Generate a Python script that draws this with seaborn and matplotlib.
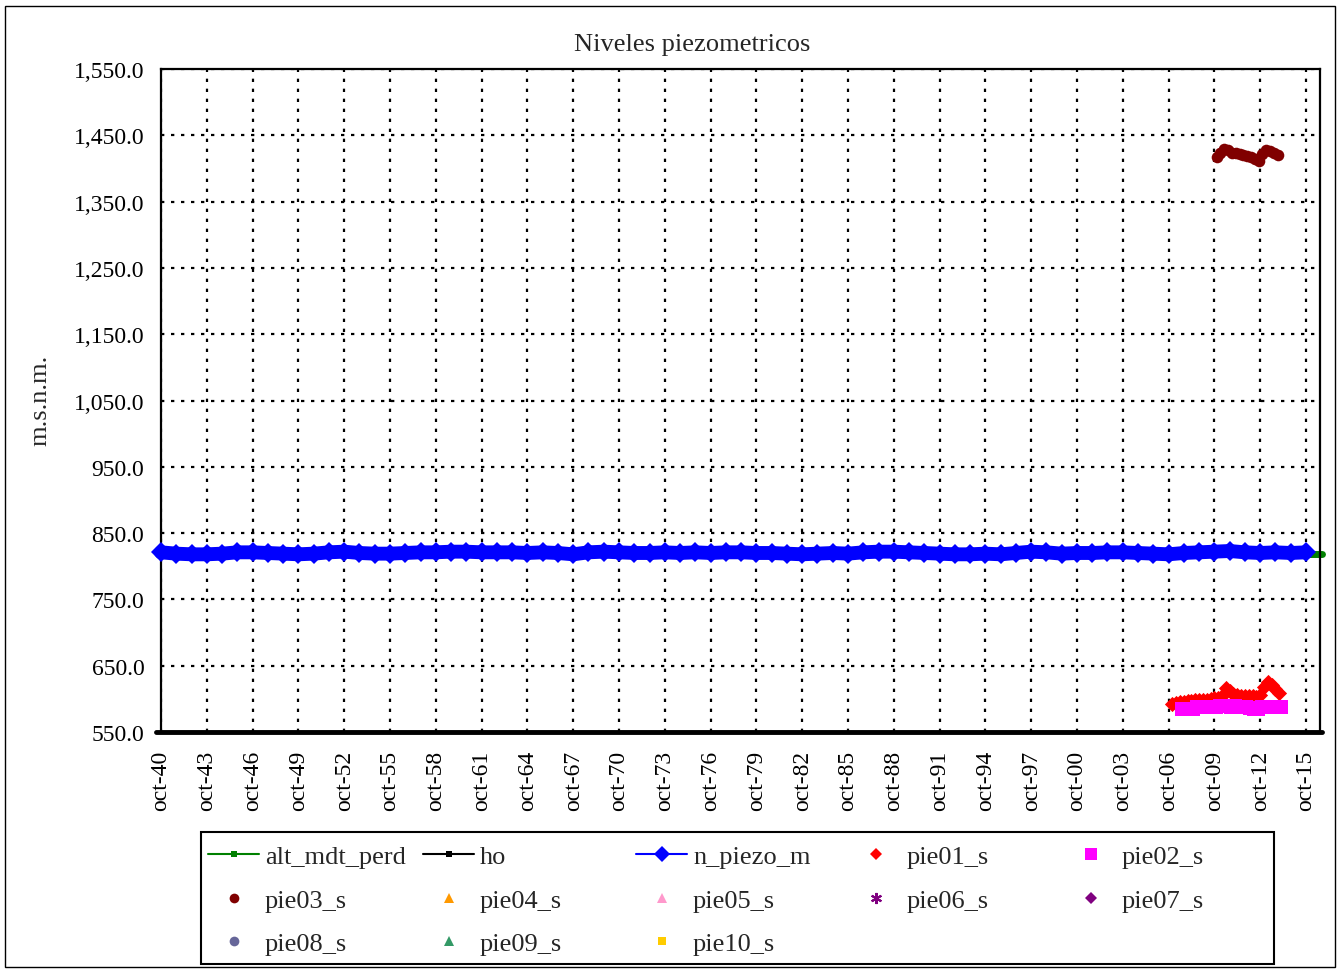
import numpy as np
import matplotlib
matplotlib.use("Agg")
import matplotlib.pyplot as plt
import seaborn as sns
from matplotlib.lines import Line2D
from matplotlib.patches import Rectangle

# --- datos (años decimales: oct = .75) ---
tick_years = list(range(1940, 2016, 3))
y_ticks = [550, 650, 750, 850, 950, 1050, 1150, 1250, 1350, 1450, 1550]

# n_piezo_m (anual, oct-40 .. oct-15)
piezo_dates = np.arange(1940.75, 2015.76, 1.0)
piezo_vals = [821, 819, 818, 818, 819, 821, 821, 820, 819, 818,
              819, 821, 822, 820, 819, 819, 820, 821, 821, 822,
              822, 821, 821, 821, 820, 821, 820, 818, 821, 822,
              821, 820, 820, 821, 820, 821, 820, 821, 821, 820,
              820, 819, 818, 819, 820, 819, 821, 822, 822, 821,
              820, 819, 818, 818, 819, 818, 820, 822, 821, 819,
              820, 820, 821, 821, 820, 819, 818, 820, 821, 822,
              823, 821, 820, 821, 820, 821]

# alt_mdt_perd y ho
alt_dates = [1940.75, 2016.8]
alt_vals = [818.5, 818.5]
ho_dates = [1940.4, 2016.8]
ho_vals = [550, 550]

# pie01_s (trimestral)
pie01_dates = np.arange(2007.0, 2014.01, 0.25)
pie01_vals = [592, 594, 596, 596, 597, 597, 598, 598, 599, 599,
              600, 601, 602, 605, 616, 612, 608, 606, 605, 605,
              604, 604, 603, 606, 618, 625, 621, 615, 609]

# pie02_s
pie02_dates = np.arange(2007.6, 2014.11, 0.25)
pie02_vals = [584, 584, 585, 585, 587, 588, 588, 588, 588, 588,
              589, 589, 589, 588, 589, 588, 587, 588, 586, 584,
              585, 587, 588, 588, 587, 587, 587]

# pie03_s
pie03_dates = np.arange(2009.9, 2013.91, 0.25)
pie03_vals = [1418, 1424, 1430, 1428, 1424, 1423, 1422, 1421, 1419,
              1417, 1414, 1411, 1422, 1428, 1427, 1423, 1421]

W, H = 1339, 970
fx = lambda px: px / W
fy = lambda py: 1 - py / H

sns.set_theme(style="white")
plt.rcParams["font.family"] = ["Liberation Serif", "DejaVu Serif"]
plt.rcParams["font.size"] = 17

fig = plt.figure(figsize=(W / 100, H / 100), dpi=100)
fig.patch.set_facecolor("white")
ax = fig.add_axes([fx(161), fy(733), (1320 - 161) / W, (733 - 70) / H])

# series
sns.lineplot(x=alt_dates, y=alt_vals, ax=ax, color="#008000", linewidth=5,
             zorder=2, clip_on=False, legend=False)
sns.lineplot(x=piezo_dates, y=piezo_vals, ax=ax, color="#0000FF", linewidth=10,
             marker="D", markersize=10.5, markeredgewidth=0, zorder=3,
             clip_on=False, legend=False)
sns.lineplot(x=ho_dates, y=ho_vals, ax=ax, color="black", linewidth=3.5,
             zorder=4, clip_on=False, legend=False)
sns.scatterplot(x=pie01_dates, y=pie01_vals, ax=ax, color="#FF0000", marker="D",
                s=60, linewidth=0, zorder=5, legend=False)
sns.scatterplot(x=pie02_dates, y=pie02_vals, ax=ax, color="#FF00FF", marker="s",
                s=90, linewidth=0, zorder=6, legend=False)
sns.scatterplot(x=pie03_dates, y=pie03_vals, ax=ax, color="#800000", marker="o",
                s=70, linewidth=0, zorder=6, legend=False)

ax.set_xlim(1940.75, 2016.67)
ax.set_ylim(550, 1550)
ax.set_xticks([y + 0.75 for y in tick_years])
ax.set_xticklabels([f"oct-{y % 100:02d}" for y in tick_years], rotation=90)
ax.set_yticks(y_ticks)
ax.set_yticklabels([f"{v:,.1f}" for v in y_ticks])
ax.set_xlabel("")
ax.set_ylabel("")
ax.tick_params(axis="both", direction="out", length=6, width=1.5,
               color="black", labelsize=17, labelcolor="black")
ax.tick_params(axis="x", pad=7)
ax.tick_params(axis="y", pad=6)
ax.set_axisbelow(True)
ax.grid(True, color="black", linestyle=(0, (1.5, 3)), linewidth=1.6)
for sp in ax.spines.values():
    sp.set_color("black")
    sp.set_linewidth(1.6)

fig.text(fx(692), fy(45), "Niveles piezometricos", ha="center", va="center",
         fontsize=19)
fig.text(fx(40), fy(400), "m.s.n.m.", rotation=90, ha="center", va="center",
         fontsize=19)

# leyenda: 5 columnas de igual ancho
def mk(color, marker, ms, line=False):
    return Line2D([], [], color=color, marker=marker, markersize=ms,
                  linewidth=1.5 if line else 0, markeredgewidth=0)

cols = [
    [(mk("#008000", "s", 4, True), "alt_mdt_perd"),
     (mk("#800000", "o", 7), "pie03_s"),
     (mk("#666699", "o", 7), "pie08_s")],
    [(mk("black", "s", 4, True), "ho"),
     (mk("#FF9900", "^", 7), "pie04_s"),
     (mk("#339966", "^", 7), "pie09_s")],
    [(mk("#0000FF", "D", 8, True), "n_piezo_m"),
     (mk("#FF99CC", "^", 7), "pie05_s"),
     (mk("#FFCC00", "s", 6), "pie10_s")],
    [(mk("#FF0000", "D", 6), "pie01_s"),
     (Line2D([], [], color="#800080", marker=(6, 2, 0), markersize=8,
             linewidth=0, markeredgewidth=1.5), "pie06_s")],
    [(mk("#FF00FF", "s", 8), "pie02_s"),
     (mk("#800080", "D", 6), "pie07_s")],
]
col_x = [208, 423, 636, 850, 1065]
for cx, entries in zip(col_x, cols):
    h, l = zip(*entries)
    fig.legend(list(h), list(l), loc="upper left",
               bbox_to_anchor=(fx(cx), fy(846)), frameon=False,
               handlelength=1.95, handletextpad=0.21, labelspacing=0.75,
               borderpad=0, borderaxespad=0, fontsize=19)

fig.add_artist(Rectangle((fx(201), fy(965)), (1274 - 201) / W, (965 - 833) / H,
                         transform=fig.transFigure, fill=False,
                         edgecolor="black", linewidth=1.5))
fig.add_artist(Rectangle((fx(5), fy(968)), (1335 - 5) / W, (968 - 7) / H,
                         transform=fig.transFigure, fill=False,
                         edgecolor="black", linewidth=1))

fig.savefig("out.png", dpi=100)
